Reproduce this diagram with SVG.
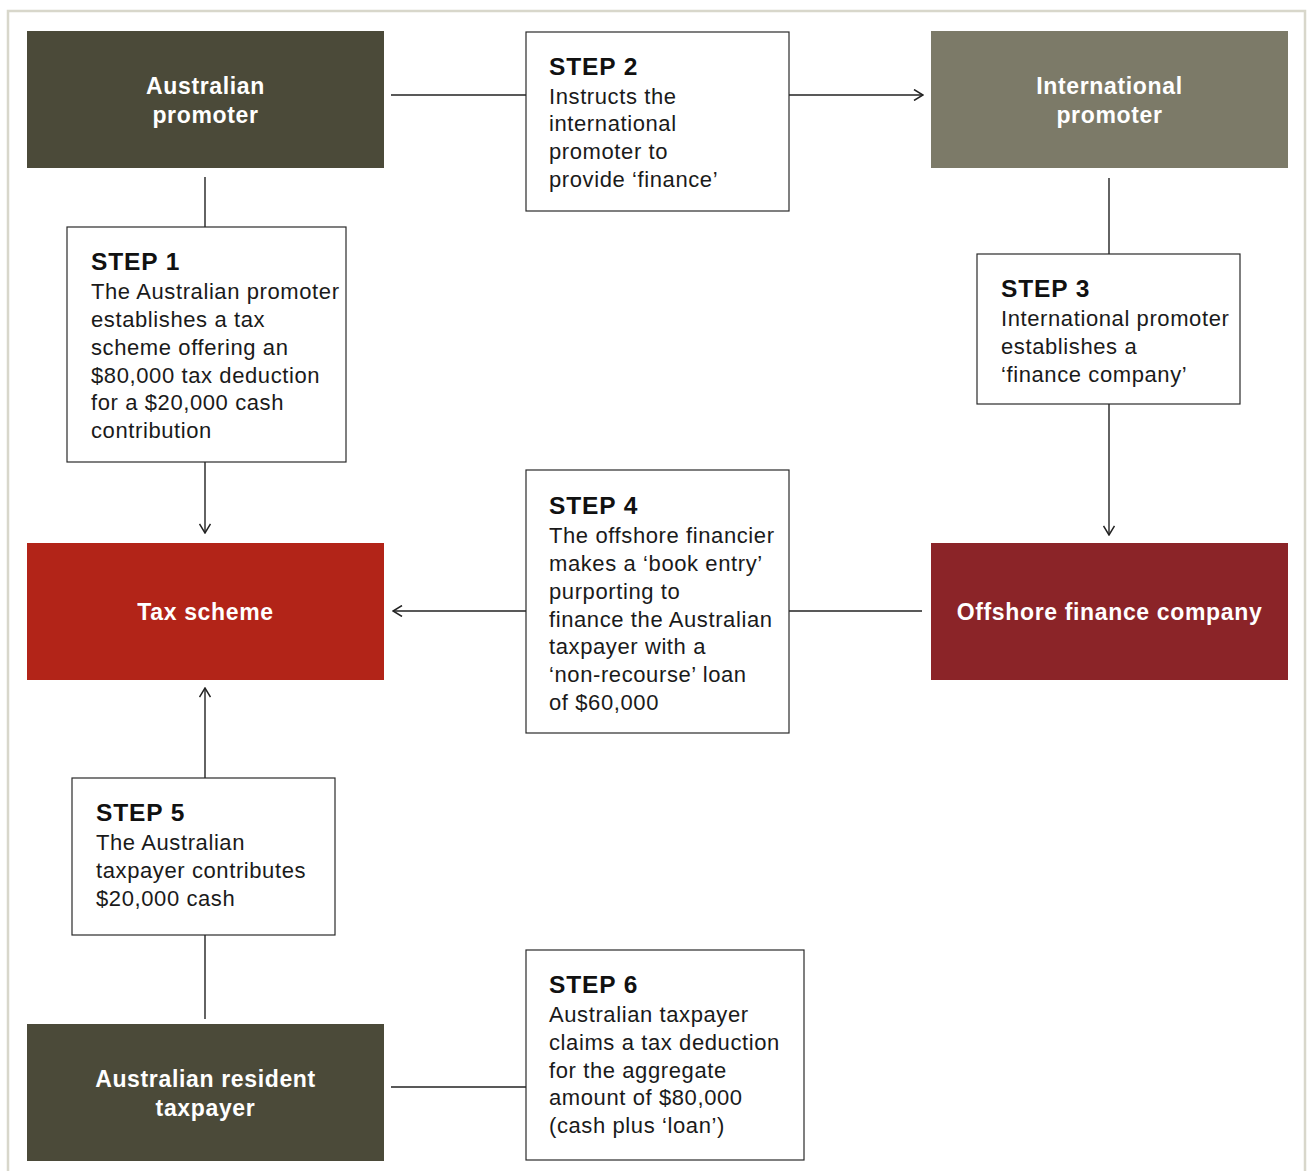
<svg xmlns="http://www.w3.org/2000/svg" width="1307" height="1171" viewBox="0 0 1307 1171">
<defs>
<style>
.frame{fill:none;stroke:#d8d7cb;stroke-width:2.5}
.step{fill:#fff;stroke:#2a2a2a;stroke-width:1.2}
.lbl{font-family:"Liberation Sans",Arial,sans-serif;font-size:23px;font-weight:bold;fill:#fff;text-anchor:middle;letter-spacing:0.65px}
.t{font-family:"Liberation Sans",Arial,sans-serif;font-size:22px;fill:#1a1a1a;letter-spacing:0.6px}
.h{font-family:"Liberation Sans",Arial,sans-serif;font-size:24.5px;font-weight:bold;fill:#111;letter-spacing:0.9px}
.c{fill:none;stroke:#222;stroke-width:1.4}
</style>
<marker id="arr" viewBox="0 0 12 12" refX="11" refY="6" markerWidth="12" markerHeight="12" markerUnits="userSpaceOnUse" orient="auto">
<path d="M2,0.5 L11,6 L2,11.5" fill="none" stroke="#222" stroke-width="1.5"/>
</marker>
</defs>
<rect width="1307" height="1171" fill="#fff"/>
<path class="frame" d="M8,1171 V11 H1305 V1171"/>

<g id="connectors">
<line class="c" x1="391" y1="95" x2="526" y2="95"/>
<line class="c" x1="789" y1="95" x2="923" y2="95" marker-end="url(#arr)"/>
<line class="c" x1="205" y1="177" x2="205" y2="227"/>
<line class="c" x1="205" y1="462" x2="205" y2="533" marker-end="url(#arr)"/>
<line class="c" x1="1109" y1="178" x2="1109" y2="254"/>
<line class="c" x1="1109" y1="404" x2="1109" y2="535" marker-end="url(#arr)"/>
<line class="c" x1="922" y1="611" x2="789" y2="611"/>
<line class="c" x1="526" y1="611" x2="393" y2="611" marker-end="url(#arr)"/>
<line class="c" x1="205" y1="778" x2="205" y2="688" marker-end="url(#arr)"/>
<line class="c" x1="205" y1="935" x2="205" y2="1019"/>
<line class="c" x1="391" y1="1087" x2="526" y2="1087"/>
</g>

<g id="australian-promoter">
<rect x="27" y="31" width="357" height="137" fill="#4b4a39"/>
<text class="lbl" x="205.5" y="94">Australian</text>
<text class="lbl" x="205.5" y="123">promoter</text>
</g>
<g id="international-promoter">
<rect x="931" y="31" width="357" height="137" fill="#7c7a68"/>
<text class="lbl" x="1109.5" y="94">International</text>
<text class="lbl" x="1109.5" y="123">promoter</text>
</g>
<g id="tax-scheme">
<rect x="27" y="543" width="357" height="137" fill="#b22418"/>
<text class="lbl" x="205.5" y="620">Tax scheme</text>
</g>
<g id="offshore-finance-company">
<rect x="931" y="543" width="357" height="137" fill="#8b2428"/>
<text class="lbl" x="1109.5" y="620">Offshore finance company</text>
</g>
<g id="australian-resident-taxpayer">
<rect x="27" y="1024" width="357" height="137" fill="#4b4a39"/>
<text class="lbl" x="205.5" y="1087">Australian resident</text>
<text class="lbl" x="205.5" y="1116">taxpayer</text>
</g>

<g id="step2">
<rect class="step" x="526" y="32" width="263" height="179"/>
<text class="h" x="549" y="75">STEP 2</text>
<text class="t" x="549"><tspan x="549" y="104">Instructs the</tspan><tspan x="549" y="131">international</tspan><tspan x="549" y="159">promoter to</tspan><tspan x="549" y="187">provide ‘finance’</tspan></text>
</g>
<g id="step1">
<rect class="step" x="67" y="227" width="279" height="235"/>
<text class="h" x="91" y="270">STEP 1</text>
<text class="t"><tspan x="91" y="299">The Australian promoter</tspan><tspan x="91" y="327">establishes a tax</tspan><tspan x="91" y="355">scheme offering an</tspan><tspan x="91" y="383">$80,000 tax deduction</tspan><tspan x="91" y="410">for a $20,000 cash</tspan><tspan x="91" y="438">contribution</tspan></text>
</g>
<g id="step3">
<rect class="step" x="977" y="254" width="263" height="150"/>
<text class="h" x="1001" y="297">STEP 3</text>
<text class="t"><tspan x="1001" y="326">International promoter</tspan><tspan x="1001" y="354">establishes a</tspan><tspan x="1001" y="382">‘finance company’</tspan></text>
</g>
<g id="step4">
<rect class="step" x="526" y="470" width="263" height="263"/>
<text class="h" x="549" y="514">STEP 4</text>
<text class="t"><tspan x="549" y="543">The offshore financier</tspan><tspan x="549" y="571">makes a ‘book entry’</tspan><tspan x="549" y="599">purporting to</tspan><tspan x="549" y="627">finance the Australian</tspan><tspan x="549" y="654">taxpayer with a</tspan><tspan x="549" y="682">‘non-recourse’ loan</tspan><tspan x="549" y="710">of $60,000</tspan></text>
</g>
<g id="step5">
<rect class="step" x="72" y="778" width="263" height="157"/>
<text class="h" x="96" y="821">STEP 5</text>
<text class="t"><tspan x="96" y="850">The Australian</tspan><tspan x="96" y="878">taxpayer contributes</tspan><tspan x="96" y="906">$20,000 cash</tspan></text>
</g>
<g id="step6">
<rect class="step" x="526" y="950" width="278" height="210"/>
<text class="h" x="549" y="993">STEP 6</text>
<text class="t"><tspan x="549" y="1022">Australian taxpayer</tspan><tspan x="549" y="1050">claims a tax deduction</tspan><tspan x="549" y="1078">for the aggregate</tspan><tspan x="549" y="1105">amount of $80,000</tspan><tspan x="549" y="1133">(cash plus ‘loan’)</tspan></text>
</g>
</svg>
